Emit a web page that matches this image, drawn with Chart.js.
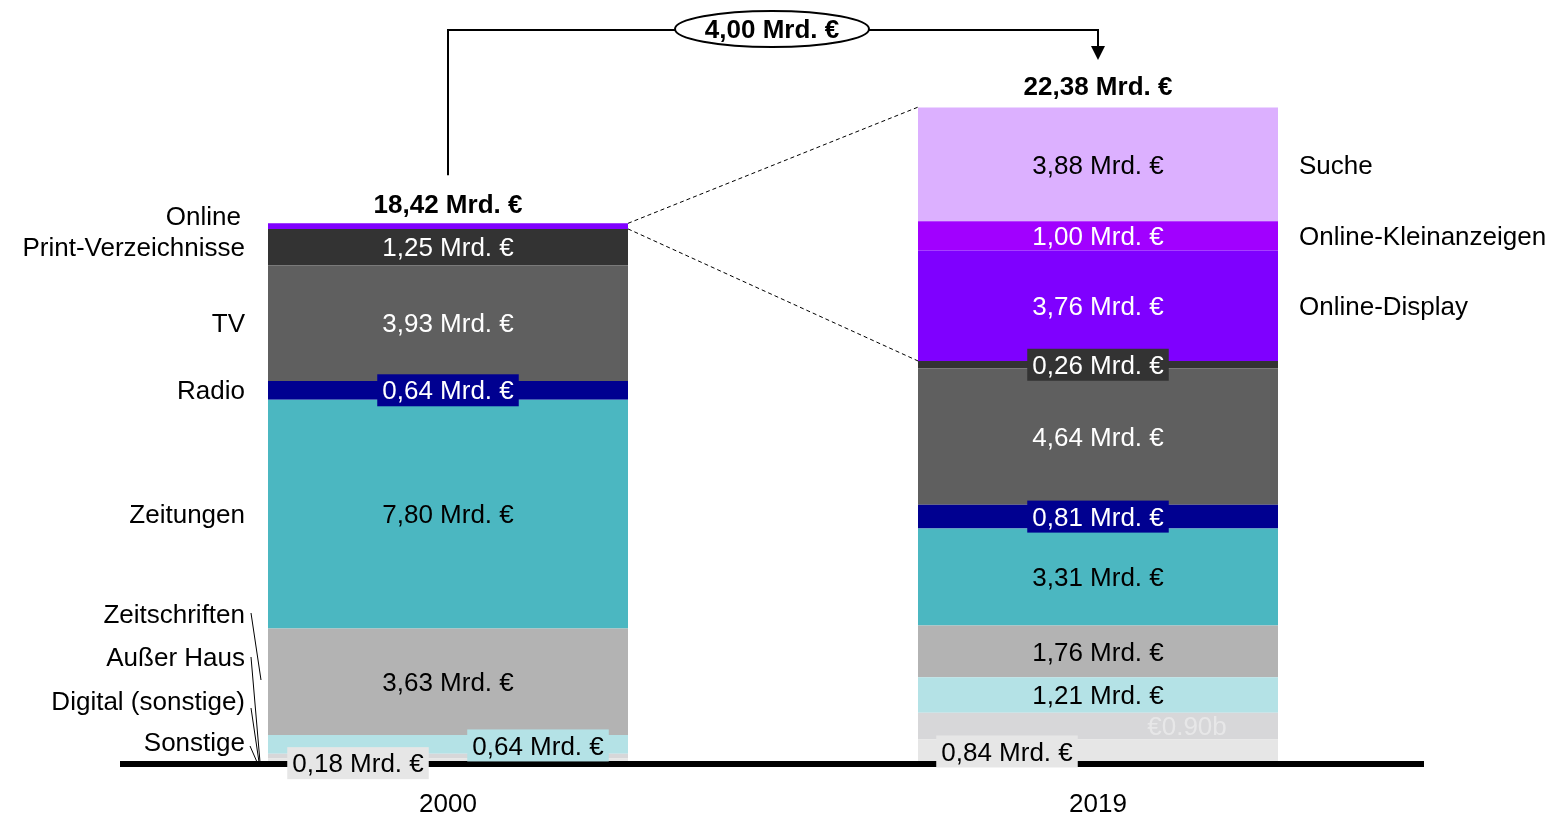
<!DOCTYPE html>
<html lang="de">
<head>
<meta charset="UTF-8">
<title>Werbemarkt Deutschland 2000 / 2019</title>
<script src="https://cdn.jsdelivr.net/npm/chart.js"></script>
<style>
  html, body { margin: 0; padding: 0; background: #fff; }
  #wrap { width: 1549px; height: 816px; }
</style>
</head>
<body>
<div id="wrap"><canvas id="chart" width="1549" height="816"></canvas></div>
<script>
// Werte in Mrd. €, Reihenfolge [2000, 2019], von unten nach oben gestapelt
const years = ['2000', '2019'];
const sonstige = [0.18, 0.84];
const digitalSonstige = [0.16, 0.90];
const ausserHaus = [0.64, 1.21];
const zeitschriften = [3.63, 1.76];
const zeitungen = [7.80, 3.31];
const radio = [0.64, 0.81];
const tv = [3.93, 4.64];
const printVerz = [1.25, 0.26];
const online = [0.19, 0];
const onlineDisplay = [0, 3.76];
const kleinanzeigen = [0, 1.00];
const suche = [0, 3.88];
const totals = [18.42, 22.38];
const diffLabel = '4,00 Mrd. €';

const FONT = "'Liberation Sans', Arial, sans-serif";
const TY = 2; // kleine Korrektur der Textmitte

const segments = [
  { name: 'Sonstige', data: sonstige, color: '#e6e6e6', text: '#000' },
  { name: 'Digital (sonstige)', data: digitalSonstige, color: '#d7d7d9', text: '#000' },
  { name: 'Außer Haus', data: ausserHaus, color: '#b4e2e6', text: '#000' },
  { name: 'Zeitschriften', data: zeitschriften, color: '#b3b3b3', text: '#000' },
  { name: 'Zeitungen', data: zeitungen, color: '#4bb7c1', text: '#000' },
  { name: 'Radio', data: radio, color: '#000090', text: '#fff' },
  { name: 'TV', data: tv, color: '#5f5f5f', text: '#fff' },
  { name: 'Print-Verzeichnisse', data: printVerz, color: '#333333', text: '#fff' },
  { name: 'Online', data: online, color: '#8000ff', text: '#fff' },
  { name: 'Online-Display', data: onlineDisplay, color: '#7f00ff', text: '#fff' },
  { name: 'Online-Kleinanzeigen', data: kleinanzeigen, color: '#a100ff', text: '#fff' },
  { name: 'Suche', data: suche, color: '#dcb0ff', text: '#000' }
];

// Sonderfälle für Beschriftungen (Versatz, Hintergrundkasten)
const special = {
  'Sonstige|0': { dx: -90, dy: 2, bg: '#e6e6e6' },
  'Außer Haus|0': { dx: 90, dy: 1, bg: '#b4e2e6' },
  'Radio|0': { bg: '#000090' },
  'Digital (sonstige)|0': { skip: true },
  'Online|0': { skip: true },
  'Print-Verzeichnisse|1': { bg: '#333333' },
  'Radio|1': { bg: '#000090' },
  'Sonstige|1': { dx: -91, dy: 0, bg: '#e6e6e6' },
  'Digital (sonstige)|1': { dx: 89, text: '€0.90b', color: 'rgba(255,255,255,0.4)' }
};

function fmt(v) {
  return v.toFixed(2).replace('.', ',') + ' Mrd. €';
}

const annotations = {
  id: 'annotations',
  afterDraw(chart) {
    const ctx = chart.ctx;
    const yScale = chart.scales.y;
    ctx.save();
    ctx.textBaseline = 'middle';

    // Segmentbeschriftungen
    chart.data.datasets.forEach((ds, di) => {
      const meta = chart.getDatasetMeta(di);
      meta.data.forEach((bar, i) => {
        const v = ds.data[i];
        if (!v) return;
        const sp = special[ds.label + '|' + i] || {};
        if (sp.skip) return;
        const txt = sp.text || fmt(v);
        const x = bar.x + (sp.dx || 0);
        const y = (bar.y + bar.base) / 2 + (sp.dy || 0);
        ctx.font = '26px ' + FONT;
        ctx.textAlign = 'center';
        if (sp.bg) {
          const w = ctx.measureText(txt).width + 10;
          ctx.fillStyle = sp.bg;
          ctx.fillRect(x - w / 2, y - 16, w, 32);
        }
        ctx.fillStyle = sp.color || segments[di].text;
        ctx.fillText(txt, x, y + TY);
      });
    });

    const m0 = chart.getDatasetMeta(0).data;
    const x0 = m0[0].x, x1 = m0[1].x;
    const half = m0[0].width / 2;

    // Summen
    ctx.font = 'bold 26px ' + FONT;
    ctx.fillStyle = '#000';
    ctx.textAlign = 'center';
    const top0 = yScale.getPixelForValue(totals[0]);
    const top1 = yScale.getPixelForValue(totals[1]);
    ctx.fillText(fmt(totals[0]), x0, top0 - 20 + TY);
    ctx.fillText(fmt(totals[1]), x1, top1 - 21 + TY);

    // Klammer mit Pfeil
    const by = 30;
    ctx.strokeStyle = '#000';
    ctx.lineWidth = 2;
    ctx.beginPath();
    ctx.moveTo(x0, top0 - 48);
    ctx.lineTo(x0, by);
    ctx.lineTo(x1, by);
    ctx.lineTo(x1, 48);
    ctx.stroke();
    ctx.beginPath();
    ctx.moveTo(x1 - 7, 46);
    ctx.lineTo(x1 + 7, 46);
    ctx.lineTo(x1, 60);
    ctx.closePath();
    ctx.fill();

    const ex = (x0 + x1) / 2 - 1;
    ctx.beginPath();
    ctx.ellipse(ex, by - 1, 97, 18, 0, 0, Math.PI * 2);
    ctx.fillStyle = '#fff';
    ctx.fill();
    ctx.stroke();
    ctx.fillStyle = '#000';
    ctx.fillText(diffLabel, ex, by + 1);

    // gestrichelte Verbindungslinien Online -> Online 2019
    const onlineIdx = segments.findIndex(s => s.name === 'Online');
    const ob = chart.getDatasetMeta(onlineIdx).data[0];
    const printIdx = segments.findIndex(s => s.name === 'Print-Verzeichnisse');
    const pb = chart.getDatasetMeta(printIdx).data[1];
    ctx.setLineDash([4, 3]);
    ctx.lineWidth = 1;
    ctx.beginPath();
    ctx.moveTo(x0 + half, ob.y);
    ctx.lineTo(x1 - half, top1);
    ctx.moveTo(x0 + half, ob.base);
    ctx.lineTo(x1 - half, pb.y);
    ctx.stroke();
    ctx.setLineDash([]);

    // Beschriftungen links
    ctx.font = '26px ' + FONT;
    ctx.textAlign = 'right';
    const lx = x0 - half - 23;
    const mid = name => {
      const b = chart.getDatasetMeta(segments.findIndex(s => s.name === name)).data[0];
      return (b.y + b.base) / 2;
    };
    ctx.fillText('Online', lx - 4, mid('Online') - 10 + TY);
    ['Print-Verzeichnisse', 'TV', 'Radio', 'Zeitungen'].forEach(n => ctx.fillText(n, lx, mid(n) + TY));
    const low = [['Zeitschriften', 614], ['Außer Haus', 657], ['Digital (sonstige)', 701], ['Sonstige', 742]];
    low.forEach(([n, y]) => ctx.fillText(n, lx, y + TY));
    ctx.lineWidth = 1;
    ctx.beginPath();
    ctx.moveTo(lx + 6, 613); ctx.lineTo(lx + 16, 680);
    ctx.moveTo(lx + 6, 657); ctx.lineTo(lx + 15, 762);
    ctx.moveTo(lx + 6, 708); ctx.lineTo(lx + 14, 762);
    ctx.moveTo(lx + 5, 746); ctx.lineTo(lx + 12, 762);
    ctx.stroke();

    // Beschriftungen rechts
    ctx.textAlign = 'left';
    const rx = x1 + half + 21;
    ['Suche', 'Online-Kleinanzeigen', 'Online-Display'].forEach(n => {
      const b = chart.getDatasetMeta(segments.findIndex(s => s.name === n)).data[1];
      ctx.fillText(n, rx, (b.y + b.base) / 2 + TY);
    });
    ctx.restore();
  }
};

Chart.defaults.font.family = FONT;

new Chart(document.getElementById('chart'), {
  type: 'bar',
  data: {
    labels: years,
    datasets: segments.map(s => ({
      label: s.name,
      data: s.data,
      backgroundColor: s.color,
      borderWidth: 0,
      barPercentage: 1,
      categoryPercentage: 360 / 650
    }))
  },
  options: {
    responsive: false,
    animation: false,
    layout: { padding: { left: 123, right: 126, top: 20, bottom: -29 } },
    plugins: { legend: { display: false }, tooltip: { enabled: false } },
    scales: {
      x: {
        stacked: true,
        grid: { display: false, drawTicks: false },
        border: { display: true, color: '#000', width: 6, z: 1 },
        ticks: { color: '#000', font: { size: 26 }, padding: 25 }
      },
      y: {
        stacked: true,
        display: false,
        min: 0,
        max: 25.35
      }
    }
  },
  plugins: [annotations]
});
</script>
</body>
</html>
